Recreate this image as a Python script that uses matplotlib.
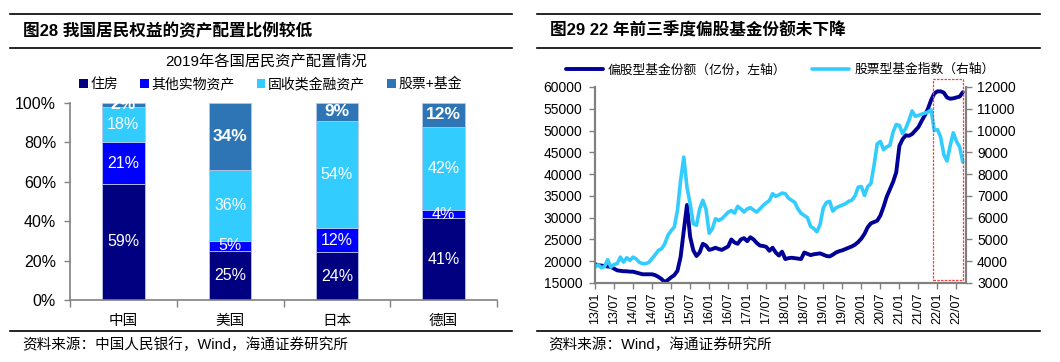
import numpy as np
import matplotlib
matplotlib.use('Agg')
import matplotlib.pyplot as plt
from matplotlib.patches import Patch, Rectangle
from matplotlib.lines import Line2D

plt.rcParams['font.family'] = ['Liberation Sans', 'Noto Sans CJK SC']

# ---- left chart data: 2019 household asset allocation (%)
countries = ['中国', '美国', '日本', '德国']
asset_types = ['住房', '其他实物资产', '固收类金融资产', '股票+基金']
housing = [59, 25, 24, 41]
other_real = [21, 5, 12, 4]
fixed_income = [18, 36, 54, 42]
equity_fund = [2, 34, 9, 12]
bar_colors = ['#000080', '#0000FF', '#33CCFF', '#2E75B6']

# ---- right chart data: monthly 2013/01 - 2022/09
tick_labels = ['13/01', '13/07', '14/01', '14/07', '15/01', '15/07', '16/01', '16/07',
               '17/01', '17/07', '18/01', '18/07', '19/01', '19/07', '20/01', '20/07',
               '21/01', '21/07', '22/01', '22/07']
fund_share = [
    19300, 19100, 19000, 18900, 18800, 18700, 18300, 17900, 17800, 17700, 17700, 17600,
    17600, 17400, 17200, 17000, 17000, 17000, 17000, 16800, 16400, 15900, 15200, 15700,
    16300, 16800, 17800, 21000, 27000, 32900, 25600, 22500, 21200, 22000, 24000, 23600,
    22600, 22800, 23100, 22800, 22600, 23000, 23400, 25000, 24300, 24000, 25000, 25300,
    24600, 25500, 25000, 24200, 23600, 23500, 23300, 22400, 23100, 22000, 21300, 22200,
    20500, 20700, 20800, 20700, 20600, 20500, 22000, 21700, 21400, 21600, 21700, 21800,
    21500, 21200, 21100, 21500, 22000, 22300, 22500, 22800, 23100, 23400, 23800, 24400,
    25200, 26300, 27800, 28700, 29000, 29300, 30500, 32500, 34800, 36500, 38200, 40400,
    46500, 48000, 48900, 48800, 49200, 50000, 50800, 52200, 53500, 55000, 57000, 58500,
    59000, 59000, 58700, 57600, 57300, 57400, 57600, 57800, 58800]
fund_index = [
    3730, 3840, 3700, 3750, 4070, 3730, 3850, 3890, 4190, 3960, 4160, 4040,
    4190, 4100, 3950, 3890, 3890, 3950, 4120, 4300, 4500, 4570, 4800, 5190,
    5400, 5570, 6330, 7710, 8780, 7400, 6640, 5720, 5650, 6400, 6800, 6400,
    5290, 5490, 5950, 5870, 5950, 6100, 6250, 6330, 6210, 6520, 6400, 6260,
    6400, 6460, 6350, 6260, 6400, 6560, 6680, 6790, 7100, 6980, 7050, 7130,
    7100, 6900, 6800, 6700, 6400, 6200, 6100, 6000, 5600, 5500, 5350, 5700,
    6450, 6700, 6750, 6300, 6450, 6520, 6580, 6640, 6750, 6800, 7000, 7400,
    7430, 7020, 7430, 7560, 8400, 9390, 9500, 9120, 9250, 9320, 9930, 10280,
    10230, 9850, 10100, 10460, 10900, 10650, 10700, 10750, 10800, 10850, 10950, 10000,
    10050, 9700, 8900, 8600, 9300, 9900, 9500, 9250, 8550]
highlight_start, highlight_end = 106.5, 116.1   # month index of red dashed box

gray = '#808080'
fig = plt.figure(figsize=(10.6, 3.62), dpi=100)

# ---- header / footer decorations
def hline(y, x0, x1):
    fig.add_artist(Line2D([x0 / 1060, x1 / 1060], [1 - y / 362] * 2, color='black', lw=1.2))

for x0, x1 in [(10, 512), (537, 1040)]:
    hline(13.5, x0, x1)
    hline(47.5, x0, x1)
    hline(331, x0, x1)

fig.text(23 / 1060, 1 - 30.5 / 362, '图28 我国居民权益的资产配置比例较低', fontsize=12,
         fontweight='bold', va='center', ha='left')
fig.text(550 / 1060, 1 - 30.5 / 362, '图29 22 年前三季度偏股基金份额未下降', fontsize=12,
         fontweight='bold', va='center', ha='left')
fig.text(22 / 1060, 1 - 345 / 362, '资料来源：中国人民银行，Wind，海通证券研究所', fontsize=10.5,
         va='center', ha='left')
fig.text(548 / 1060, 1 - 345 / 362, '资料来源：Wind，海通证券研究所', fontsize=10.5,
         va='center', ha='left')

# ---- left chart
ax = fig.add_axes([70 / 1060, 1 - 300 / 362, 427 / 1060, 197 / 362])
series = [housing, other_real, fixed_income, equity_fund]
totals = np.sum(series, axis=0)
x = np.arange(len(countries))
bottom = np.zeros(len(countries))
for i, vals in enumerate(series):
    share = np.array(vals) / totals * 100
    ax.bar(x, share, width=0.4, bottom=bottom, color=bar_colors[i],
           edgecolor='#B8C4E8', linewidth=0.6, label=asset_types[i])
    for xi, b, s, v in zip(x, bottom, share, vals):
        bold = i == 3
        ax.text(xi, b + s / 2, f'{v}%', ha='center', va='center', color='white',
                fontsize=12.5 if bold else 11.5, fontweight='bold' if bold else 'normal')
    bottom += share

ax.set_xlim(-0.5, 3.5)
ax.set_ylim(0, 100)
ax.set_yticks(range(0, 101, 20))
ax.set_yticklabels([f'{v}%' for v in range(0, 101, 20)], fontsize=11.5)
ax.set_xticks(x)
ax.set_xticklabels(countries, fontsize=10.5)
ax.set_xticks(np.arange(-0.5, 3.6, 1), minor=True)
ax.tick_params(axis='x', which='major', length=0, pad=10)
ax.tick_params(axis='x', which='minor', length=5, width=1, color=gray, direction='out')
ax.tick_params(axis='y', length=4, width=1, color=gray, pad=6)
for side in ['top', 'right']:
    ax.spines[side].set_visible(False)
for side in ['left', 'bottom']:
    ax.spines[side].set_color(gray)
    ax.spines[side].set_linewidth(1.2)

handles = [Patch(facecolor=c, edgecolor='none') for c in bar_colors]
ax.legend(handles, asset_types, ncol=4, loc='center', bbox_to_anchor=(0.47, 1.095),
          frameon=False, fontsize=10, handlelength=0.6, handleheight=0.6,
          handletextpad=0.2, columnspacing=1.6, borderaxespad=0)
fig.text(266 / 1060, 1 - 62 / 362, '2019年各国居民资产配置情况', fontsize=11,
         ha='center', va='center')

# ---- right chart
months = np.arange(len(fund_share))
axl = fig.add_axes([595 / 1060, 1 - 283 / 362, 371 / 1060, 196 / 362])
axr = axl.twinx()
l1, = axl.plot(months, fund_share, color='#000096', lw=2.8, solid_capstyle='round')
l2, = axr.plot(months, fund_index, color='#33CCFF', lw=2.6, solid_capstyle='round')

axl.set_xlim(0, 117)
axl.set_ylim(15000, 60000)
axl.set_yticks(range(15000, 60001, 5000))
axr.set_ylim(3000, 12000)
axr.set_yticks(range(3000, 12001, 1000))
axl.set_xticks(np.arange(0, 117, 6))
axl.set_xticklabels(tick_labels, rotation=90, fontsize=9)
axl.tick_params(axis='y', labelsize=10, length=4, width=1, color=gray, pad=5)
axr.tick_params(axis='y', labelsize=10, length=4, width=1, color=gray, pad=4)
axl.tick_params(axis='x', length=4, width=1, color=gray, pad=3)
for a in (axl, axr):
    a.spines['top'].set_visible(False)
    for side in ['left', 'right', 'bottom']:
        a.spines[side].set_color(gray)
        a.spines[side].set_linewidth(1.5)

axr.add_patch(Rectangle((highlight_start, 3130), highlight_end - highlight_start, 9240,
                        fill=False, edgecolor='#FF3B3B', linestyle=(0, (2, 1)), lw=0.9,
                        clip_on=False, zorder=5))

fig.legend([l1, l2], ['偏股型基金份额（亿份，左轴）', '股票型基金指数（右轴）'],
           loc='center', bbox_to_anchor=(780 / 1060, 1 - 70 / 362), ncol=2,
           frameon=False, fontsize=9.2, handlelength=2.9, handletextpad=0.4,
           columnspacing=2.0, borderaxespad=0)

fig.savefig('out.png', dpi=100)
